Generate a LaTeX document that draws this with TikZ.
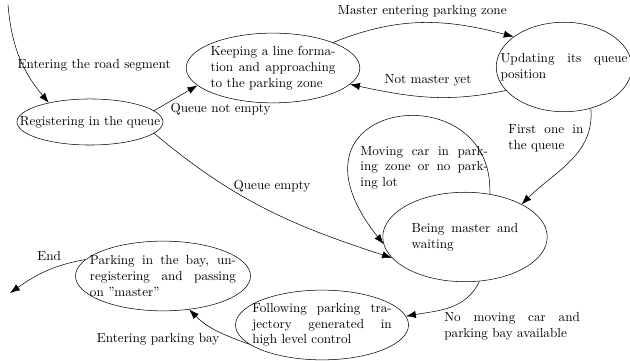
\documentclass[tikz,border=0pt]{standalone}
\usetikzlibrary{shapes.geometric,arrows.meta}

\begin{document}
\begin{tikzpicture}[x=0.76pt, y=0.76pt, >={Latex[length=7.5pt,width=5.5pt]}, s/.style={ellipse, draw, inner xsep=-12pt, inner ysep=0pt, align=justify, minimum width=132pt, minimum height=53pt}, l/.style={inner sep=2pt}]
		\useasboundingbox (0,0) rectangle (630,361);
		\node[ellipse, draw, inner xsep=-15pt, inner ysep=0pt, minimum width=111pt, minimum height=35pt] (R) at (90,239) {Registering in the queue};
		\node[s, text width=95pt] (K) at (273,293) {Keeping a line forma-\linebreak tion and approaching to the parking zone};
		\node[s, text width=96.5pt, minimum width=103pt, minimum height=68pt] (U) at (564,294) {Updating its queue\linebreak position};
		\node[s, text width=81pt, minimum width=125pt, minimum height=68pt] (M) at (465,124) {Being master and\linebreak waiting};
		\node[s, text width=106pt, minimum width=131.5pt] (F) at (322,36) {Following parking tra-\linebreak jectory generated in\linebreak high level control};
		\node[s, text width=111pt, minimum width=133pt] (P) at (163,85) {Parking in the bay, un-\linebreak registering and passing\linebreak on "master"};
		\coordinate (in) at (8,356);
		\coordinate (out) at (10,68);

		\path[->] (in) edge[out=-85, in=130] node[l, pos=.6, anchor=west, xshift=-7pt, yshift=1pt] {Entering the road segment} (R.155);
		\path[->] (R.10) edge node[l, pos=.1, anchor=west, xshift=7pt, yshift=-1pt] {Queue not empty} (K.193);
		\path[->] (R.-10) edge[out=-40, in=162] node[l, pos=.34, anchor=west, yshift=2pt] {Queue empty} (M.196);
		\path[->] (K.23) edge[out=22, in=165] node[l, above, yshift=2pt] {Master entering parking zone} (U.149);
		\path[->] (U.202) edge[out=192, in=-12] node[l, above, yshift=6pt] {Not master yet} (K.-12);
		\path[->] (U.-57) edge[out=-85, in=45] node[l, pos=.25, anchor=east, text width=57pt, align=justify] {First one in\linebreak the queue} (M.30);
		\draw[->] (M.60) .. controls (495,291) and (268,262) .. (M.185) node[l, pos=.5, anchor=north, xshift=22pt, yshift=-19pt, text width=97pt, align=justify] {Moving car in park-\linebreak ing zone or no park-\linebreak ing lot};
		\path[->] (M.-72) edge[out=-115, in=10] node[l, pos=.6, anchor=north west, text width=103pt, align=justify] {No moving car and\linebreak parking bay available} (F.6);
		\path[->] (F.195) edge[out=160, in=-45] node[l, pos=.2, anchor=east, xshift=-10pt] {Entering parking bay} (P.-52);
		\path[->] (P.168) edge[out=190, in=35] node[l, pos=.45, above, yshift=5pt] {End} (out);
	\end{tikzpicture}
\end{document}
